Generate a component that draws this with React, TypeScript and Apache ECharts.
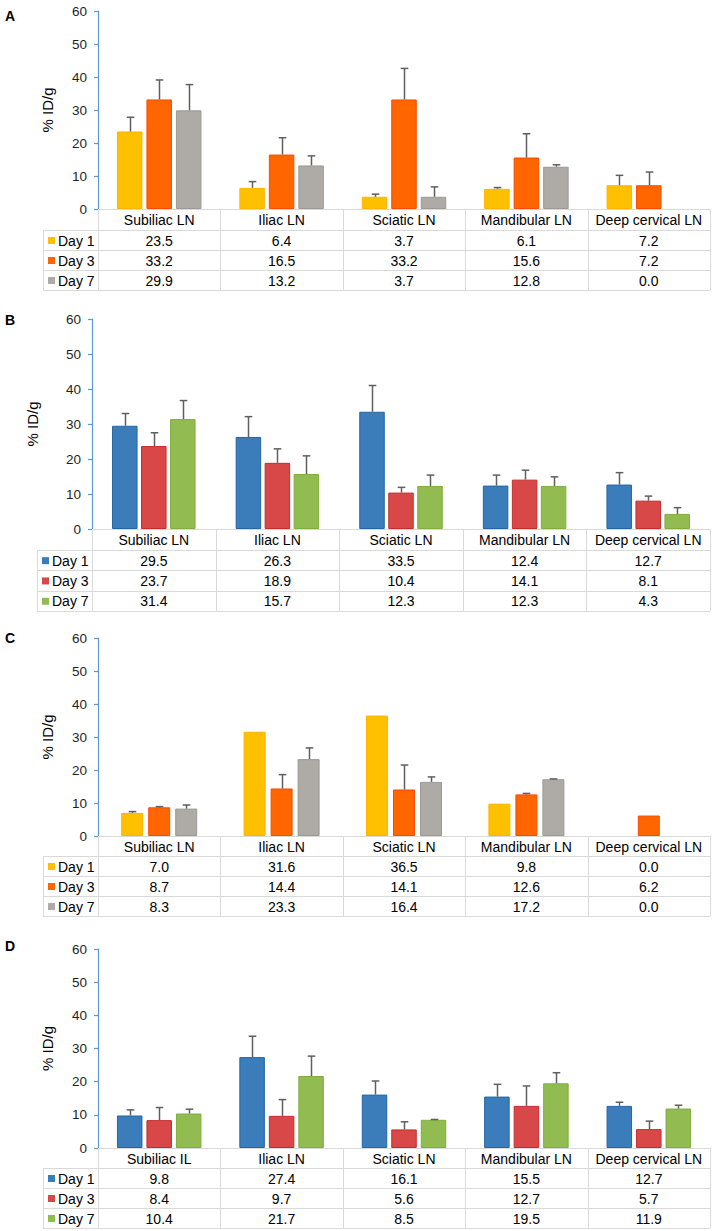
import React, { useEffect, useRef } from "react";
import * as echarts from "echarts";

// ---------- DATA ----------
const categoriesABC = ["Subiliac LN", "Iliac LN", "Sciatic LN", "Mandibular LN", "Deep cervical LN"];
const categoriesD = ["Subiliac IL", "Iliac LN", "Sciatic LN", "Mandibular LN", "Deep cervical LN"];
const dayNames = ["Day 1", "Day 3", "Day 7"];
const yTicks = [0, 10, 20, 30, 40, 50, 60];

const aDay1 = [23.5, 6.4, 3.7, 6.1, 7.2];
const aDay3 = [33.2, 16.5, 33.2, 15.6, 7.2];
const aDay7 = [29.9, 13.2, 3.7, 12.8, 0.0];
const aErr1 = [4.3, 1.9, 0.8, 0.4, 3.0];
const aErr3 = [5.9, 5.1, 9.4, 7.2, 4.0];
const aErr7 = [7.8, 2.9, 3.0, 0.6, null];

const bDay1 = [29.5, 26.3, 33.5, 12.4, 12.7];
const bDay3 = [23.7, 18.9, 10.4, 14.1, 8.1];
const bDay7 = [31.4, 15.7, 12.3, 12.3, 4.3];
const bErr1 = [3.5, 5.8, 7.5, 3.0, 3.4];
const bErr3 = [3.8, 4.0, 1.5, 2.7, 1.3];
const bErr7 = [5.3, 5.2, 3.1, 2.6, 1.8];

const cDay1 = [7.0, 31.6, 36.5, 9.8, 0.0];
const cDay3 = [8.7, 14.4, 14.1, 12.6, 6.2];
const cDay7 = [8.3, 23.3, 16.4, 17.2, 0.0];
const cErr1 = [0.4, null, null, null, null];
const cErr3 = [0.2, 4.2, 7.4, 0.3, null];
const cErr7 = [1.1, 3.4, 1.5, 0.1, null];

const dDay1 = [9.8, 27.4, 16.1, 15.5, 12.7];
const dDay3 = [8.4, 9.7, 5.6, 12.7, 5.7];
const dDay7 = [10.4, 21.7, 8.5, 19.5, 11.9];
const dErr1 = [1.7, 6.3, 4.1, 3.7, 1.1];
const dErr3 = [3.8, 4.9, 2.3, 6.0, 2.4];
const dErr7 = [1.3, 6.0, 0.1, 3.2, 1.0];

// ---------- STYLE / LAYOUT ----------
const warmFill = ["#FFC000", "#FF6600", "#AEAAA6"];
const warmBorder = ["#FFB300", "#FF4A00", "#9C9994"];
const coolFill = ["#3A7DBA", "#D94848", "#92BB52"];
const coolBorder = ["#2465A6", "#C92A2A", "#7FAE3A"];

const FONT = "'Liberation Sans', Arial, Helvetica, sans-serif";
const RIGHT = 710;
const GRID_LINE = "#D9D9D9";

type Panel = {
  label: string;
  cats: string[];
  values: number[][];
  errs: (number | null)[][];
  fill: string[];
  border: string[];
  left: number;
  top: number;
  height: number;
  barW: number;
  pitch: number;
  nameX: number;
  letterY: number;
  headH: number;
  rowH: number;
};

const panels: Panel[] = [
  { label: "A", cats: categoriesABC, values: [aDay1, aDay3, aDay7], errs: [aErr1, aErr3, aErr7], fill: warmFill, border: warmBorder, left: 98, top: 11, height: 198, barW: 25.5, pitch: 29.5, nameX: 47, letterY: 16, headH: 21, rowH: 20 },
  { label: "B", cats: categoriesABC, values: [bDay1, bDay3, bDay7], errs: [bErr1, bErr3, bErr7], fill: coolFill, border: coolBorder, left: 92, top: 319, height: 210, barW: 25.5, pitch: 29, nameX: 32, letterY: 320, headH: 21, rowH: 20.3 },
  { label: "C", cats: categoriesABC, values: [cDay1, cDay3, cDay7], errs: [cErr1, cErr3, cErr7], fill: warmFill, border: warmBorder, left: 98, top: 638, height: 198, barW: 22, pitch: 27, nameX: 47, letterY: 638, headH: 20, rowH: 20 },
  { label: "D", cats: categoriesD, values: [dDay1, dDay3, dDay7], errs: [dErr1, dErr3, dErr7], fill: coolFill, border: coolBorder, left: 98, top: 949, height: 199, barW: 25.5, pitch: 29.5, nameX: 47, letterY: 946, headH: 20, rowH: 20 },
];

function buildOption() {
  const grid: any[] = [];
  const xAxis: any[] = [];
  const yAxis: any[] = [];
  const series: any[] = [];
  const graphic: any[] = [];

  panels.forEach((p, pi) => {
    const width = RIGHT - p.left;
    grid.push({ left: p.left, top: p.top, width, height: p.height, containLabel: false });
    xAxis.push({
      type: "category",
      gridIndex: pi,
      data: p.cats,
      boundaryGap: true,
      axisLine: { show: false },
      axisTick: { show: false },
      axisLabel: { show: false },
      splitLine: { show: false },
    });
    yAxis.push({
      type: "value",
      gridIndex: pi,
      min: yTicks[0],
      max: yTicks[yTicks.length - 1],
      interval: 10,
      axisLine: { show: true, lineStyle: { color: "#5B9BD5", width: 1.2 } },
      axisTick: { show: true, length: 4, lineStyle: { color: "#5B9BD5", width: 1.2 } },
      axisLabel: { show: true, margin: 11, fontSize: 13.5, color: "#1F1F1F", fontFamily: FONT },
      splitLine: { show: false },
    });

    const gapPct = ((p.pitch - p.barW) / p.barW) * 100;
    p.values.forEach((vals, si) => {
      series.push({
        type: "bar",
        name: `${p.label} ${dayNames[si]}`,
        xAxisIndex: pi,
        yAxisIndex: pi,
        barWidth: p.barW,
        barGap: gapPct + "%",
        data: vals.map((v) =>
          v === 0 ? { value: v, itemStyle: { borderWidth: 0 } } : v
        ),
        itemStyle: { color: p.fill[si], borderColor: p.border[si], borderWidth: 1 },
        silent: true,
        z: 2,
      });
    });

    p.errs.forEach((errs, si) => {
      const offset = (si - 1) * p.pitch;
      const data: any[] = [];
      errs.forEach((e, ci) => {
        if (e !== null && e !== undefined) data.push([ci, p.values[si][ci], e]);
      });
      series.push({
        type: "custom",
        name: `${p.label} err ${dayNames[si]}`,
        xAxisIndex: pi,
        yAxisIndex: pi,
        encode: { x: 0, y: 1 },
        data,
        silent: true,
        z: 5,
        renderItem: (params: any, api: any) => {
          const ci = api.value(0);
          const v = api.value(1);
          const e = api.value(2);
          const a = api.coord([ci, v]);
          const b = api.coord([ci, v + e]);
          const x = Math.round(a[0] + offset) + 0.5;
          const st = { stroke: "#5F5F5F", lineWidth: 1.5 };
          return {
            type: "group",
            children: [
              { type: "line", shape: { x1: x, y1: a[1], x2: x, y2: b[1] }, style: st },
              { type: "line", shape: { x1: x - 3.8, y1: b[1], x2: x + 3.8, y2: b[1] }, style: st },
            ],
          };
        },
      });
    });

    // panel letter
    graphic.push({
      type: "text",
      left: 5,
      top: p.letterY - 7,
      style: { text: p.label, font: `bold 14px ${FONT}`, fill: "#000" },
    });
    // y-axis name
    graphic.push({
      type: "text",
      x: p.nameX,
      y: p.top + p.height / 2,
      rotation: Math.PI / 2,
      style: {
        text: "% ID/g",
        font: `15px ${FONT}`,
        fill: "#000",
        align: "center",
        verticalAlign: "middle",
      },
    });

    // table
    const y0 = p.top + p.height;
    const cw = width / p.cats.length;
    const legLeft = p.left - 55;
    const headB = y0 + p.headH;
    const bottom = headB + p.rowH * dayNames.length;
    const ls = { stroke: GRID_LINE, lineWidth: 1 };
    const hl = (x1: number, x2: number, y: number) =>
      graphic.push({ type: "line", shape: { x1, y1: Math.round(y) + 0.5, x2, y2: Math.round(y) + 0.5 }, style: ls, z: 1 });
    const vl = (x: number, y1: number, y2: number) =>
      graphic.push({ type: "line", shape: { x1: Math.round(x) + 0.5, y1, x2: Math.round(x) + 0.5, y2 }, style: ls, z: 1 });

    hl(p.left, RIGHT, y0);
    for (let r = 0; r <= dayNames.length; r++) hl(legLeft, RIGHT, headB + r * p.rowH);
    for (let k = 0; k <= p.cats.length; k++) vl(p.left + k * cw, y0, bottom);
    vl(legLeft, headB, bottom);

    p.cats.forEach((c, ci) => {
      graphic.push({
        type: "text",
        x: p.left + (ci + 0.5) * cw,
        y: y0 + p.headH / 2 + 0.5,
        style: { text: c, font: `14px ${FONT}`, fill: "#000", align: "center", verticalAlign: "middle" },
        z: 3,
      });
    });
    dayNames.forEach((d, si) => {
      const cy = headB + (si + 0.5) * p.rowH + 0.5;
      graphic.push({
        type: "rect",
        shape: { x: legLeft + 5, y: cy - 3.5, width: 7, height: 7 },
        style: { fill: p.fill[si] },
        z: 3,
      });
      graphic.push({
        type: "text",
        x: legLeft + 15,
        y: cy,
        style: { text: d, font: `14px ${FONT}`, fill: "#000", align: "left", verticalAlign: "middle" },
        z: 3,
      });
      p.values[si].forEach((v, ci) => {
        graphic.push({
          type: "text",
          x: p.left + (ci + 0.5) * cw,
          y: cy,
          style: { text: v.toFixed(1), font: `14px ${FONT}`, fill: "#000", align: "center", verticalAlign: "middle" },
          z: 3,
        });
      });
    });
  });

  return {
    animation: false,
    backgroundColor: "#ffffff",
    grid,
    xAxis,
    yAxis,
    series,
    graphic,
  };
}

export default function App() {
  const ref = useRef<HTMLDivElement>(null);
  useEffect(() => {
    if (!ref.current) return;
    const chart = echarts.init(ref.current, null, { renderer: "svg" });
    chart.setOption(buildOption() as any);
    return () => chart.dispose();
  }, []);
  return (
    <div
      ref={ref}
      style={{ position: "absolute", left: 0, top: 0, width: 712, height: 1231, background: "#fff" }}
    />
  );
}
